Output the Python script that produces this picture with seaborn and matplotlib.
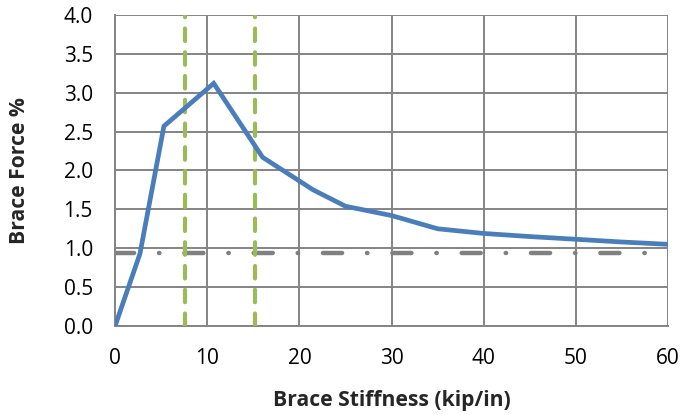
import matplotlib
matplotlib.use("Agg")
import matplotlib.pyplot as plt
import seaborn as sns
import pandas as pd

stiffness = [0, 2.7, 5.3, 10.7, 16.0, 21.5, 25.0, 30.0, 35.0, 40.0, 45.0, 50.0, 55.0, 60.0]
brace_force = [0.0, 0.93, 2.57, 3.12, 2.17, 1.75, 1.54, 1.42, 1.25, 1.19, 1.15, 1.115, 1.08, 1.05]
vlines_x = [7.6, 15.2]
hline_y = 0.94
x_ticks = [0, 10, 20, 30, 40, 50, 60]
y_ticks = [0.0, 0.5, 1.0, 1.5, 2.0, 2.5, 3.0, 3.5, 4.0]

sns.set_theme(style="white")
plt.rcParams['font.family'] = ['Open Sans', 'DejaVu Sans']

df = pd.DataFrame({"x": stiffness, "y": brace_force})

fig = plt.figure(figsize=(6.81, 4.15), dpi=100)
ax = fig.add_axes([0.169, 0.2145, 0.812, 0.7495])

grid_c = "#848484"
for xt in x_ticks:
    ax.axvline(xt, color=grid_c, lw=1.4, zorder=1)
for yt in y_ticks:
    ax.axhline(yt, color=grid_c, lw=1.4, zorder=1)

ax.axhline(hline_y, color="#808080", lw=3.2, dashes=(4.3, 5.6, 0.1, 5.6),
           dash_capstyle="round", zorder=2)
for vx in vlines_x:
    ax.axvline(vx, color="#9BBB59", lw=3.0, dashes=(3.0, 2.7),
               dash_capstyle="round", zorder=3)

sns.lineplot(data=df, x="x", y="y", ax=ax, color="#4A7EBB", lw=3.4,
             solid_joinstyle="miter", zorder=4)

ax.set_xlim(0, 60)
ax.set_ylim(0, 4)
ax.set_xticks(x_ticks)
ax.set_xticklabels([str(v) for v in x_ticks])
ax.set_yticks(y_ticks)
ax.set_yticklabels([f"{v:.1f}" for v in y_ticks])

for s in ["top", "right"]:
    ax.spines[s].set_visible(False)
for s in ["left", "bottom"]:
    ax.spines[s].set_color(grid_c)
    ax.spines[s].set_linewidth(1.4)

ax.tick_params(axis="both", which="major", direction="out", length=5,
               width=1.4, color=grid_c, labelsize=15, labelcolor="#000000")
ax.tick_params(axis="x", pad=11)
ax.tick_params(axis="y", pad=11)

ax.set_xlabel("Brace Stiffness (kip/in)", fontsize=15.2, fontweight="bold",
              labelpad=15)
ax.set_ylabel("Brace Force %", fontsize=15.2, fontweight="bold", labelpad=24)

fig.savefig("out.png", dpi=100)
